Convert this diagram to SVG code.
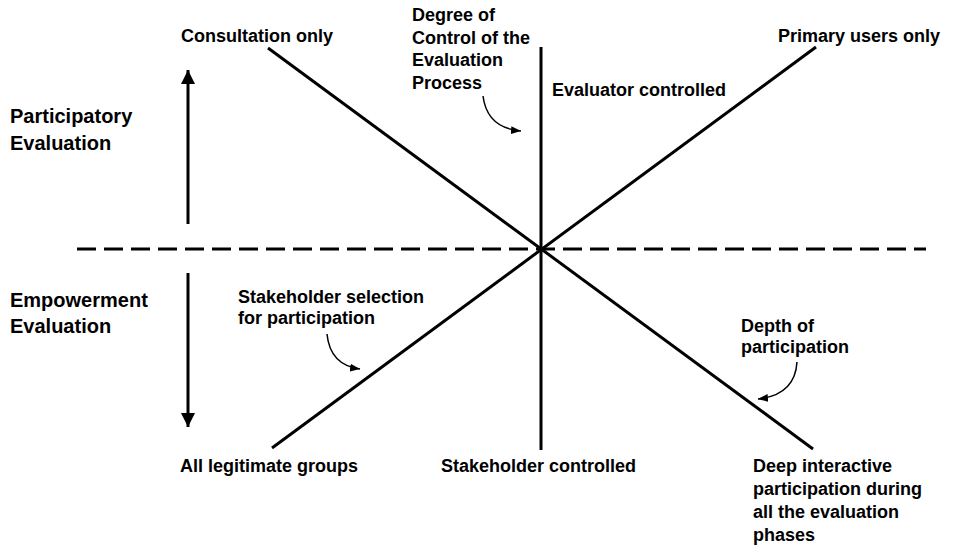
<svg xmlns="http://www.w3.org/2000/svg" width="956" height="550" viewBox="0 0 956 550">
<style>
text{font-family:"Liberation Sans",Arial,sans-serif;font-weight:bold;font-size:18px;fill:#000}
.big{font-size:20px}
.ln{stroke:#000;stroke-width:3;fill:none}
.dash{stroke:#000;stroke-width:3;stroke-dasharray:19 8;fill:none}
.cv{stroke:#000;stroke-width:1.5;fill:none}
</style>
<defs>
<marker id="ah" markerUnits="userSpaceOnUse" markerWidth="14" markerHeight="14" refX="14" refY="7" orient="auto" viewBox="0 0 14 14"><path d="M0,0 L14,7 L0,14 z" fill="#000"/></marker>
<marker id="sh" markerUnits="userSpaceOnUse" markerWidth="10" markerHeight="8" refX="10" refY="4" orient="auto" viewBox="0 0 10 8"><path d="M0,0 L10,4 L0,8 z" fill="#000"/></marker>
</defs>
<rect width="956" height="550" fill="#fff"/>
<g id="connectors">
<line class="ln" x1="541" y1="47" x2="541" y2="450"/>
<line class="ln" x1="268" y1="48" x2="813" y2="449"/>
<line class="ln" x1="816" y1="47" x2="272" y2="448"/>
<line class="dash" x1="77" y1="249" x2="926" y2="249"/>
<line class="ln" x1="188" y1="224" x2="188" y2="70" marker-end="url(#ah)"/>
<line class="ln" x1="188" y1="273" x2="188" y2="427" marker-end="url(#ah)"/>
<path class="cv" d="M483,96 Q487,128 521,131" marker-end="url(#sh)"/>
<path class="cv" d="M327,334 Q330,365 360,369" marker-end="url(#sh)"/>
<path class="cv" d="M797,362 Q795,395 758,399" marker-end="url(#sh)"/>
</g>
<g id="consultation"><text x="181" y="42">Consultation only</text></g>
<g id="degree"><text x="412" y="21">Degree of</text><text x="412" y="44">Control of the</text><text x="412" y="66">Evaluation</text><text x="412" y="89">Process</text></g>
<g id="evaluator"><text x="552" y="96">Evaluator controlled</text></g>
<g id="primary"><text x="778" y="42">Primary users only</text></g>
<g id="participatory"><text class="big" x="10" y="123">Participatory</text><text class="big" x="10" y="150">Evaluation</text></g>
<g id="empowerment"><text class="big" x="10" y="307">Empowerment</text><text class="big" x="10" y="333">Evaluation</text></g>
<g id="selection"><text x="238" y="303">Stakeholder selection</text><text x="238" y="324">for participation</text></g>
<g id="depth"><text x="741" y="332">Depth of</text><text x="741" y="353">participation</text></g>
<g id="legitimate"><text x="180" y="472">All legitimate groups</text></g>
<g id="stakeholder"><text x="441" y="472">Stakeholder controlled</text></g>
<g id="deep"><text x="753" y="472">Deep interactive</text><text x="753" y="495">participation during</text><text x="753" y="518">all the evaluation</text><text x="753" y="541">phases</text></g>
</svg>
